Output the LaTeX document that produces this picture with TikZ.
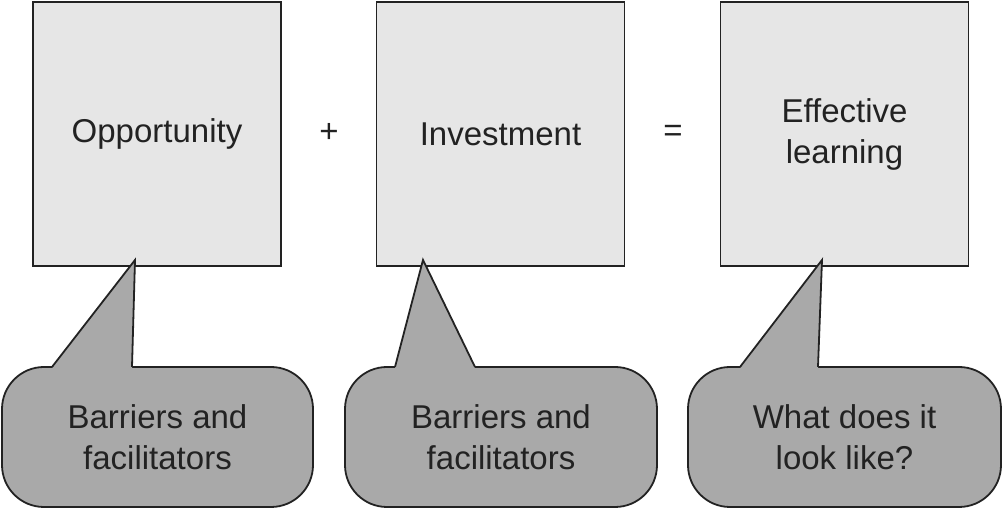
\documentclass[tikz,border=0pt]{standalone}
\usepackage{fontspec}
\setmainfont{Liberation Sans}
\usetikzlibrary{calc}
\definecolor{boxfill}{HTML}{E6E6E6}
\definecolor{callfill}{HTML}{A9A9A9}
\definecolor{ink}{HTML}{222222}
\begin{document}
\begin{tikzpicture}[x=1pt,y=1pt,
  every node/.style={text=ink, font=\fontsize{33}{41}\selectfont, align=center},
  box/.style={draw=ink, line width=1.8pt, fill=boxfill, minimum width=248pt, minimum height=264pt, inner sep=0pt},
  callout/.style={draw=ink, line width=1.8pt, fill=callfill, rounded corners=42pt, minimum width=311pt, minimum height=140pt, inner sep=0pt},
  tailfill/.style={fill=callfill},
  tailline/.style={draw=ink, line width=1.8pt, line join=miter}]
\useasboundingbox (0,0) rectangle (1004,508);
% boxes
\node[box] (o) at (157,374) {Opportunity};
\node[box] (i) at (500.5,374) {Investment};
\node[box] (e) at (844.5,374) {Effective\\learning};
\node (plus) at (329,375) {+};
\node (eq) at (673,375) {=};
% callouts
\node[callout] (c1) at (157.5,71) {Barriers and\\facilitators};
\node[callout, minimum width=312pt] (c2) at (501,71) {Barriers and\\facilitators};
\node[callout, minimum width=313pt] (c3) at (844.5,71) {What does it\\look like?};
% tails
\coordinate (t1) at (135,248);
\coordinate (a1) at (52,141); \coordinate (b1) at (132,141);
\coordinate (t2) at (423,248);
\coordinate (a2) at (395,141); \coordinate (b2) at (475,141);
\coordinate (t3) at (822,248);
\coordinate (a3) at (740,141); \coordinate (b3) at (818,141);
\foreach \k in {1,2,3}{
  \fill[tailfill] ($(a\k)+(0,-1.2)$) -- (t\k) -- ($(b\k)+(0,-1.2)$) -- cycle;
  \draw[tailline] (a\k) -- (t\k) -- (b\k);
}
\end{tikzpicture}
\end{document}
